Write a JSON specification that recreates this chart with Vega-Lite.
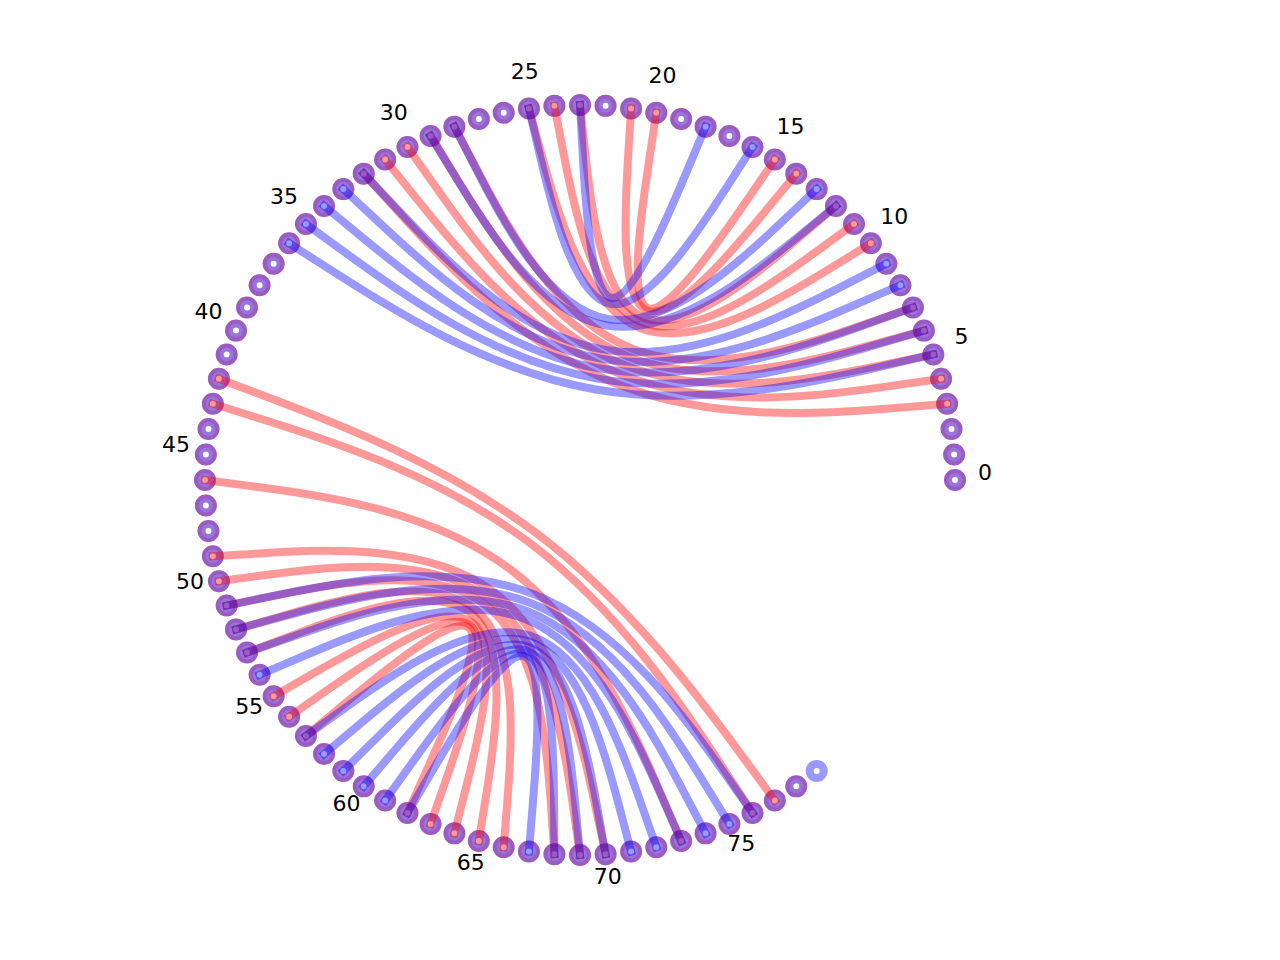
{
  "$schema": "https://vega.github.io/schema/vega-lite/v6.json",
  "width": 1280,
  "height": 960,
  "padding": 0,
  "autosize": {"type": "none"},
  "background": "white",
  "config": {"view": {"stroke": null}},
  "datasets": {
    "nodes": [
      {"id": -1, "x": 0, "y": 0, "red": false},
      {"id": 0, "x": 1, "y": 0, "red": true},
      {"id": 1, "x": 0.99767, "y": 0.06824, "red": true},
      {"id": 2, "x": 0.99069, "y": 0.13617, "red": true},
      {"id": 3, "x": 0.97908, "y": 0.20345, "red": true},
      {"id": 4, "x": 0.96291, "y": 0.2698, "red": true},
      {"id": 5, "x": 0.94226, "y": 0.33488, "red": true},
      {"id": 6, "x": 0.91721, "y": 0.3984, "red": true},
      {"id": 7, "x": 0.88789, "y": 0.46006, "red": true},
      {"id": 8, "x": 0.85442, "y": 0.51958, "red": true},
      {"id": 9, "x": 0.81697, "y": 0.57668, "red": true},
      {"id": 10, "x": 0.77571, "y": 0.63109, "red": true},
      {"id": 11, "x": 0.73084, "y": 0.68255, "red": true},
      {"id": 12, "x": 0.68255, "y": 0.73084, "red": true},
      {"id": 13, "x": 0.63109, "y": 0.77571, "red": true},
      {"id": 14, "x": 0.57668, "y": 0.81697, "red": true},
      {"id": 15, "x": 0.51958, "y": 0.85442, "red": true},
      {"id": 16, "x": 0.46006, "y": 0.88789, "red": true},
      {"id": 17, "x": 0.3984, "y": 0.91721, "red": true},
      {"id": 18, "x": 0.33488, "y": 0.94226, "red": true},
      {"id": 19, "x": 0.2698, "y": 0.96291, "red": true},
      {"id": 20, "x": 0.20345, "y": 0.97908, "red": true},
      {"id": 21, "x": 0.13617, "y": 0.99069, "red": true},
      {"id": 22, "x": 0.06824, "y": 0.99767, "red": true},
      {"id": 23, "x": 0, "y": 1, "red": true},
      {"id": 24, "x": -0.06824, "y": 0.99767, "red": true},
      {"id": 25, "x": -0.13617, "y": 0.99069, "red": true},
      {"id": 26, "x": -0.20345, "y": 0.97908, "red": true},
      {"id": 27, "x": -0.2698, "y": 0.96291, "red": true},
      {"id": 28, "x": -0.33488, "y": 0.94226, "red": true},
      {"id": 29, "x": -0.3984, "y": 0.91721, "red": true},
      {"id": 30, "x": -0.46006, "y": 0.88789, "red": true},
      {"id": 31, "x": -0.51958, "y": 0.85442, "red": true},
      {"id": 32, "x": -0.57668, "y": 0.81697, "red": true},
      {"id": 33, "x": -0.63109, "y": 0.77571, "red": true},
      {"id": 34, "x": -0.68255, "y": 0.73084, "red": true},
      {"id": 35, "x": -0.73084, "y": 0.68255, "red": true},
      {"id": 36, "x": -0.77571, "y": 0.63109, "red": true},
      {"id": 37, "x": -0.81697, "y": 0.57668, "red": true},
      {"id": 38, "x": -0.85442, "y": 0.51958, "red": true},
      {"id": 39, "x": -0.88789, "y": 0.46006, "red": true},
      {"id": 40, "x": -0.91721, "y": 0.3984, "red": true},
      {"id": 41, "x": -0.94226, "y": 0.33488, "red": true},
      {"id": 42, "x": -0.96291, "y": 0.2698, "red": true},
      {"id": 43, "x": -0.97908, "y": 0.20345, "red": true},
      {"id": 44, "x": -0.99069, "y": 0.13617, "red": true},
      {"id": 45, "x": -0.99767, "y": 0.06824, "red": true},
      {"id": 46, "x": -1, "y": 0, "red": true},
      {"id": 47, "x": -0.99767, "y": -0.06824, "red": true},
      {"id": 48, "x": -0.99069, "y": -0.13617, "red": true},
      {"id": 49, "x": -0.97908, "y": -0.20345, "red": true},
      {"id": 50, "x": -0.96291, "y": -0.2698, "red": true},
      {"id": 51, "x": -0.94226, "y": -0.33488, "red": true},
      {"id": 52, "x": -0.91721, "y": -0.3984, "red": true},
      {"id": 53, "x": -0.88789, "y": -0.46006, "red": true},
      {"id": 54, "x": -0.85442, "y": -0.51958, "red": true},
      {"id": 55, "x": -0.81697, "y": -0.57668, "red": true},
      {"id": 56, "x": -0.77571, "y": -0.63109, "red": true},
      {"id": 57, "x": -0.73084, "y": -0.68255, "red": true},
      {"id": 58, "x": -0.68255, "y": -0.73084, "red": true},
      {"id": 59, "x": -0.63109, "y": -0.77571, "red": true},
      {"id": 60, "x": -0.57668, "y": -0.81697, "red": true},
      {"id": 61, "x": -0.51958, "y": -0.85442, "red": true},
      {"id": 62, "x": -0.46006, "y": -0.88789, "red": true},
      {"id": 63, "x": -0.3984, "y": -0.91721, "red": true},
      {"id": 64, "x": -0.33488, "y": -0.94226, "red": true},
      {"id": 65, "x": -0.2698, "y": -0.96291, "red": true},
      {"id": 66, "x": -0.20345, "y": -0.97908, "red": true},
      {"id": 67, "x": -0.13617, "y": -0.99069, "red": true},
      {"id": 68, "x": -0.06824, "y": -0.99767, "red": true},
      {"id": 69, "x": 0, "y": -1, "red": true},
      {"id": 70, "x": 0.06824, "y": -0.99767, "red": true},
      {"id": 71, "x": 0.13617, "y": -0.99069, "red": true},
      {"id": 72, "x": 0.20345, "y": -0.97908, "red": true},
      {"id": 73, "x": 0.2698, "y": -0.96291, "red": true},
      {"id": 74, "x": 0.33488, "y": -0.94226, "red": true},
      {"id": 75, "x": 0.3984, "y": -0.91721, "red": true},
      {"id": 76, "x": 0.46006, "y": -0.88789, "red": true},
      {"id": 77, "x": 0.51958, "y": -0.85442, "red": true},
      {"id": 78, "x": 0.57668, "y": -0.81697, "red": true},
      {"id": 79, "x": 0.63109, "y": -0.77571, "red": false}
    ],
    "edges": [
      {"s": "r", "p0": 3, "p1": -1, "p2": 32},
      {"s": "r", "p0": 4, "p1": -1, "p2": 31},
      {"s": "r", "p0": 5, "p1": -1, "p2": 30},
      {"s": "r", "p0": 6, "p1": -1, "p2": 29},
      {"s": "r", "p0": 7, "p1": -1, "p2": 28},
      {"s": "r", "p0": 10, "p1": -1, "p2": 25},
      {"s": "r", "p0": 11, "p1": -1, "p2": 24},
      {"s": "r", "p0": 12, "p1": -1, "p2": 23},
      {"s": "r", "p0": 14, "p1": -1, "p2": 21},
      {"s": "r", "p0": 15, "p1": -1, "p2": 20},
      {"s": "r", "p0": 42, "p1": -1, "p2": 77},
      {"s": "r", "p0": 43, "p1": -1, "p2": 76},
      {"s": "r", "p0": 46, "p1": -1, "p2": 73},
      {"s": "r", "p0": 49, "p1": -1, "p2": 70},
      {"s": "r", "p0": 50, "p1": -1, "p2": 69},
      {"s": "r", "p0": 51, "p1": -1, "p2": 68},
      {"s": "r", "p0": 52, "p1": -1, "p2": 66},
      {"s": "r", "p0": 53, "p1": -1, "p2": 65},
      {"s": "r", "p0": 55, "p1": -1, "p2": 64},
      {"s": "r", "p0": 56, "p1": -1, "p2": 63},
      {"s": "r", "p0": 57, "p1": -1, "p2": 62},
      {"s": "b", "p0": 5, "p1": -1, "p2": 36},
      {"s": "b", "p0": 6, "p1": -1, "p2": 35},
      {"s": "b", "p0": 7, "p1": -1, "p2": 34},
      {"s": "b", "p0": 8, "p1": -1, "p2": 33},
      {"s": "b", "p0": 9, "p1": -1, "p2": 32},
      {"s": "b", "p0": 12, "p1": -1, "p2": 29},
      {"s": "b", "p0": 13, "p1": -1, "p2": 28},
      {"s": "b", "p0": 16, "p1": -1, "p2": 25},
      {"s": "b", "p0": 18, "p1": -1, "p2": 23},
      {"s": "b", "p0": 51, "p1": -1, "p2": 76},
      {"s": "b", "p0": 52, "p1": -1, "p2": 75},
      {"s": "b", "p0": 53, "p1": -1, "p2": 74},
      {"s": "b", "p0": 54, "p1": -1, "p2": 73},
      {"s": "b", "p0": 57, "p1": -1, "p2": 72},
      {"s": "b", "p0": 58, "p1": -1, "p2": 71},
      {"s": "b", "p0": 59, "p1": -1, "p2": 70},
      {"s": "b", "p0": 60, "p1": -1, "p2": 69},
      {"s": "b", "p0": 61, "p1": -1, "p2": 68},
      {"s": "b", "p0": 62, "p1": -1, "p2": 67}
    ],
    "labels": [
      {"t": "0", "x": 1.08, "y": 0},
      {"t": "5", "x": 1.01764, "y": 0.36167},
      {"t": "10", "x": 0.83777, "y": 0.68158},
      {"t": "15", "x": 0.56115, "y": 0.92277},
      {"t": "20", "x": 0.21973, "y": 1.05741},
      {"t": "25", "x": -0.14706, "y": 1.06995},
      {"t": "30", "x": -0.49686, "y": 0.95892},
      {"t": "35", "x": -0.78931, "y": 0.73715},
      {"t": "40", "x": -0.99059, "y": 0.43027},
      {"t": "45", "x": -1.07748, "y": 0.0737},
      {"t": "50", "x": -1.03994, "y": -0.29138},
      {"t": "55", "x": -0.88233, "y": -0.62281},
      {"t": "60", "x": -0.62281, "y": -0.88233},
      {"t": "65", "x": -0.29138, "y": -1.03994},
      {"t": "70", "x": 0.0737, "y": -1.07748},
      {"t": "75", "x": 0.43027, "y": -0.99059}
    ]
  },
  "encoding": {
    "x": {"field": "x", "type": "quantitative", "scale": {"domain": [-1.546667, 1.866667], "nice": false, "zero": false}, "axis": null},
    "y": {"field": "y", "type": "quantitative", "scale": {"domain": [-1.28, 1.28], "nice": false, "zero": false}, "axis": null}
  },
  "layer": [
    {
      "data": {"name": "nodes"},
      "transform": [{"filter": "datum.id >= 0 && datum.red"}],
      "mark": {"type": "point", "shape": "circle", "size": 196, "fill": "white", "fillOpacity": 0.4, "stroke": "#ff0000", "strokeOpacity": 0.4, "strokeWidth": 8, "opacity": 1}
    },
    {
      "data": {"name": "nodes"},
      "transform": [{"filter": "datum.id >= 0"}],
      "mark": {"type": "point", "shape": "circle", "size": 196, "fill": "white", "fillOpacity": 0.4, "stroke": "#0000ff", "strokeOpacity": 0.4, "strokeWidth": 8, "opacity": 1}
    },
    {
      "data": {"name": "edges"},
      "transform": [
        {"filter": "datum.s === 'r'"},
        {"fold": ["p0", "p1", "p2"], "as": ["step", "node"]},
        {"lookup": "node", "from": {"data": {"name": "nodes"}, "key": "id", "fields": ["x", "y"]}}
      ],
      "mark": {"type": "line", "interpolate": "bundle", "tension": 0.75, "stroke": "#ff0000", "strokeOpacity": 0.4, "strokeWidth": 8, "strokeCap": "square"},
      "encoding": {
        "detail": {"field": "p0", "type": "nominal"},
        "order": {"field": "step"}
      }
    },
    {
      "data": {"name": "edges"},
      "transform": [
        {"filter": "datum.s === 'b'"},
        {"fold": ["p0", "p1", "p2"], "as": ["step", "node"]},
        {"lookup": "node", "from": {"data": {"name": "nodes"}, "key": "id", "fields": ["x", "y"]}}
      ],
      "mark": {"type": "line", "interpolate": "bundle", "tension": 0.75, "stroke": "#0000ff", "strokeOpacity": 0.4, "strokeWidth": 8, "strokeCap": "square"},
      "encoding": {
        "detail": {"field": "p0", "type": "nominal"},
        "order": {"field": "step"}
      }
    },
    {
      "data": {"name": "labels"},
      "mark": {"type": "text", "font": "DejaVu Sans", "fontSize": 22, "align": "center", "baseline": "alphabetic", "color": "black"},
      "encoding": {"text": {"field": "t"}}
    }
  ]
}
